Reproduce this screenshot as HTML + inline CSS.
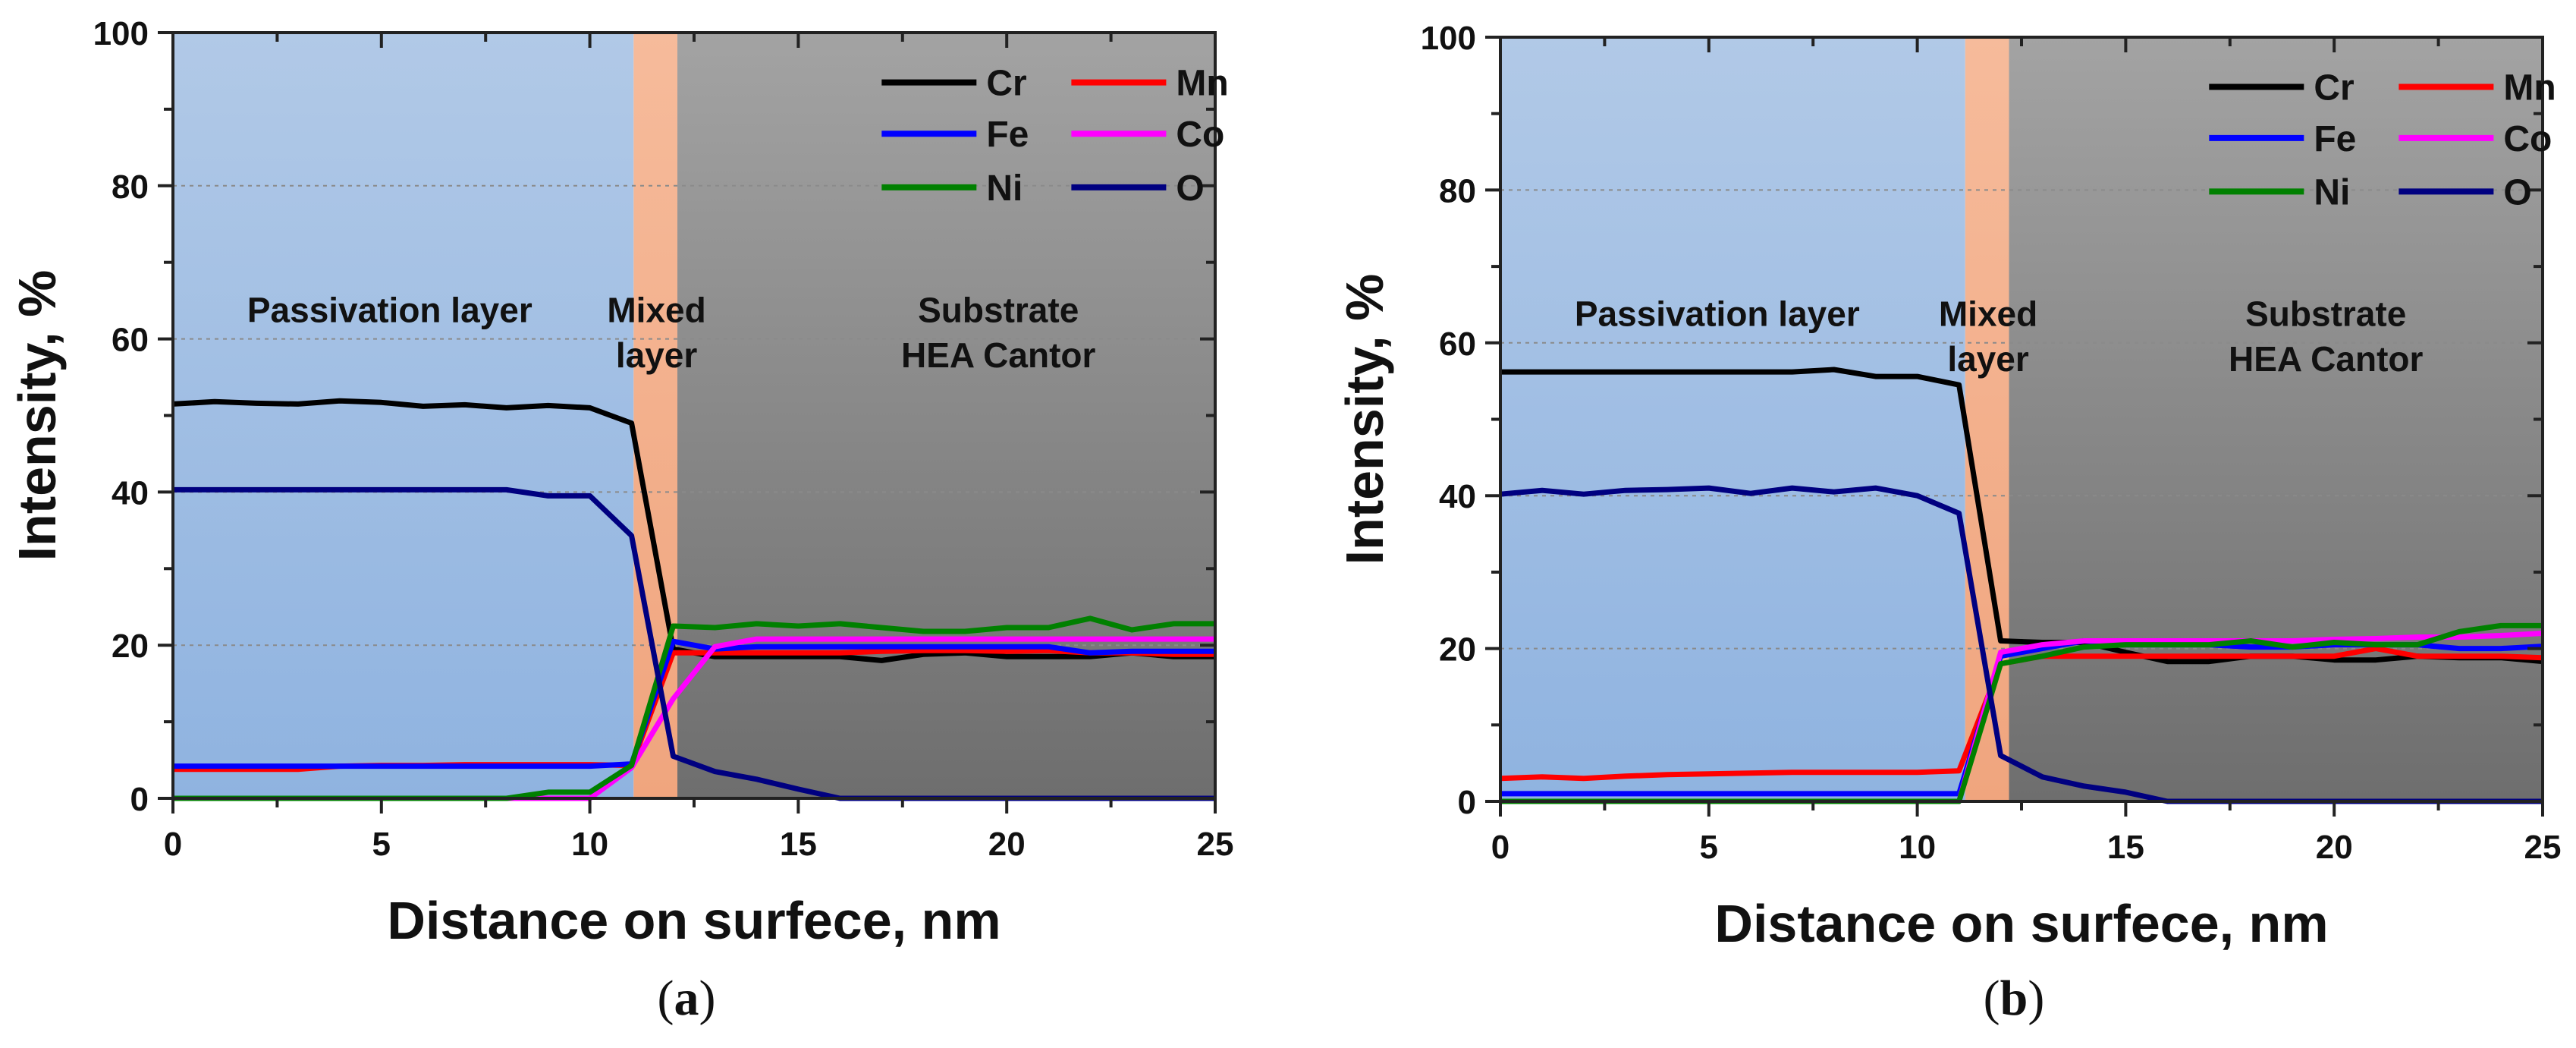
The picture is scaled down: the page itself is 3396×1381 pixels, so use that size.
<!DOCTYPE html>
<html><head><meta charset="utf-8">
<style>
html,body{margin:0;padding:0;background:#fff;}
svg{display:block;font-family:"Liberation Sans",Arial,sans-serif;}
</style></head>
<body>
<svg id="fig" width="3396" height="1381" viewBox="0 0 3396 1381" xmlns="http://www.w3.org/2000/svg">
<defs>
<linearGradient id="gBlue" x1="0" y1="0" x2="0" y2="1"><stop offset="0" stop-color="#b1c9e7"/><stop offset="1" stop-color="#8fb3e0"/></linearGradient>
<linearGradient id="gOrange" x1="0" y1="0" x2="0" y2="1"><stop offset="0" stop-color="#f6bb9b"/><stop offset="1" stop-color="#f0a57e"/></linearGradient>
<linearGradient id="gGray" x1="0" y1="0" x2="0" y2="1"><stop offset="0" stop-color="#a3a3a3"/><stop offset="1" stop-color="#6e6e6e"/></linearGradient>
</defs>
</svg>
<script>
const xs = [0,1,2,3,4,5,6,7,8,9,10,11,12,13,14,15,16,17,18,19,20,21,22,23,24,25];
const xTicks = [0,5,10,15,20,25];
const yTicks = [0,20,40,60,80,100];
const seriesNames = ["Cr","Mn","Fe","Co","Ni","O"];
const seriesColors = ["#000000","#ff0000","#0000ff","#ff00ff","#008000","#000080"];
const mixedA = [11.05, 12.1];
const mixedB = [11.15, 12.2];
const crA = [51.5,51.8,51.6,51.5,51.9,51.7,51.2,51.4,51,51.3,51,49,19.5,18.5,18.5,18.5,18.5,18,18.8,19,18.5,18.5,18.5,19,18.5,18.5];
const mnA = [3.8,3.8,3.8,3.8,4.2,4.3,4.3,4.4,4.4,4.4,4.4,4.3,19,19,19,19,19,19.2,19.3,19.3,19.2,19.3,19,19,18.8,18.8];
const feA = [4.2,4.2,4.2,4.2,4.2,4.2,4.2,4.2,4.2,4.2,4.2,4.5,20.5,19.5,19.8,19.8,19.8,19.8,19.8,19.8,19.8,19.8,19,19.2,19.2,19.2];
const coA = [0,0,0,0,0,0,0,0,0,0,0,4,13,19.8,20.8,20.8,20.8,20.8,20.8,20.8,20.8,20.8,20.8,20.8,20.8,20.8];
const niA = [0,0,0,0,0,0,0,0,0,0.8,0.8,4.3,22.5,22.3,22.8,22.5,22.8,22.3,21.8,21.8,22.3,22.3,23.5,22,22.8,22.8];
const oA = [40.3,40.3,40.3,40.3,40.3,40.3,40.3,40.3,40.3,39.5,39.5,34.3,5.5,3.5,2.5,1.2,0,0,0,0,0,0,0,0,0,0];
const crB = [56.2,56.2,56.2,56.2,56.2,56.2,56.2,56.2,56.5,55.6,55.6,54.5,21,20.8,20.8,19.5,18.3,18.3,19,19,18.5,18.5,19,18.8,18.8,18.3];
const mnB = [3,3.2,3,3.3,3.5,3.6,3.7,3.8,3.8,3.8,3.8,4,18,19,19,19,19,19,19,19,19,20,19,19,19,18.8];
const feB = [1,1,1,1,1,1,1,1,1,1,1,1,19,20,21,20.5,20.5,20.5,20.2,20.2,20.5,20.5,20.5,20,20,20.3];
const coB = [0,0,0,0,0,0,0,0,0,0,0,0,19.5,20.5,21,21,21,21,21,21,21.2,21.3,21.5,21.5,21.7,22];
const niB = [0,0,0,0,0,0,0,0,0,0,0,0,18,19,20.2,20.5,20.5,20.5,21,20.2,20.8,20.5,20.5,22.2,23,23];
const oB = [40.2,40.7,40.2,40.7,40.8,41,40.3,41,40.5,41,40,37.7,6,3.2,2,1.2,0,0,0,0,0,0,0,0,0,0];

const NS = "http://www.w3.org/2000/svg";
const svg = document.getElementById("fig");
function mk(tag, attrs, parent){const e=document.createElementNS(NS,tag);for(const k in attrs)e.setAttribute(k,attrs[k]);(parent||svg).appendChild(e);return e;}

function drawPanel(p){
  const g = mk("g",{});
  
  
  const X = v => p.L + (v - 0) / 25 * (p.R - p.L);
  const Y = v => p.B - v / 100 * (p.B - p.T);
  // backgrounds
  const r1 = mk("rect",{x:p.L,y:p.T,width:X(p.mixed[0])-p.L,height:p.B-p.T,fill:"url(#gBlue)"},g);
  
  
  const r2 = mk("rect",{x:X(p.mixed[0]),y:p.T,width:X(p.mixed[1])-X(p.mixed[0]),height:p.B-p.T,fill:"url(#gOrange)"},g);
  
  
  const r3 = mk("rect",{x:X(p.mixed[1]),y:p.T,width:p.R-X(p.mixed[1]),height:p.B-p.T,fill:"url(#gGray)"},g);
  
  
  // grid
  [20,40,60,80].forEach(v=>{
    const l = mk("line",{x1:p.L,x2:p.R,y1:Y(v),y2:Y(v),stroke:"#8a8a8a","stroke-width":2,"stroke-dasharray":"5,6"},g);
    
    
  });
  // region labels
  const tl = (txt,x,y,name)=>{const t=mk("text",{x:x,y:y,"text-anchor":"middle","font-size":46,"font-weight":"bold",fill:"#111"},g);t.textContent=txt;};
  tl("Passivation layer",X(p.lab[0]),Y(62.2),"passivation-label");
  tl("Mixed",X(p.lab[1]),Y(62.2),"mixed-label");
  tl("layer",X(p.lab[1]),Y(56.3),"mixed-label-2");
  tl("Substrate",X(p.lab[2]),Y(62.2),"substrate-label");
  tl("HEA Cantor",X(p.lab[2]),Y(56.3),"substrate-label-2");
  // series
  const data = p.data;
  data.forEach((arr,i)=>{
    const pts = xs.map((x,j)=>X(x).toFixed(1)+","+Y(arr[j]).toFixed(1)).join(" ");
    const pl = mk("polyline",{points:pts,fill:"none",stroke:seriesColors[i],"stroke-width":7,"stroke-linejoin":"round"},g);
    
    
  });
  // axes frame
  const fr = mk("rect",{x:p.L,y:p.T,width:p.R-p.L,height:p.B-p.T,fill:"none",stroke:"#222","stroke-width":4},g);
  
  
  // ticks
  for(let v=0; v<=25; v+=2.5){
    const major = v%5===0; const len = major?20:12;
    const t1 = mk("line",{x1:X(v),x2:X(v),y1:p.B,y2:p.B+len,stroke:"#222","stroke-width":4},g);
    
    
    const t2 = mk("line",{x1:X(v),x2:X(v),y1:p.T,y2:p.T+len,stroke:"#222","stroke-width":4},g);
    
    
  }
  for(let v=0; v<=100; v+=10){
    const major = v%20===0; const len = major?20:12;
    const t1 = mk("line",{x1:p.L-len,x2:p.L,y1:Y(v),y2:Y(v),stroke:"#222","stroke-width":4},g);
    
    
    const t2 = mk("line",{x1:p.R-len,x2:p.R,y1:Y(v),y2:Y(v),stroke:"#222","stroke-width":4},g);
    
    
  }
  xTicks.forEach(v=>{
    const t = mk("text",{x:X(v),y:p.B+75,"text-anchor":"middle","font-size":44,"font-weight":"bold",fill:"#111"},g);
    t.textContent = v;
    
    
  });
  yTicks.forEach(v=>{
    const t = mk("text",{x:p.L-32,y:Y(v)+16,"text-anchor":"end","font-size":44,"font-weight":"bold",fill:"#111"},g);
    t.textContent = v;
    
    
  });
  // axis titles
  const yt = mk("text",{x:0,y:0,transform:`translate(${p.L-155},${(p.T+p.B)/2}) rotate(-90)`,"text-anchor":"middle","font-size":70,"font-weight":"bold",fill:"#111"},g);
  yt.textContent = "Intensity, %";
  
  
  const xt = mk("text",{x:(p.L+p.R)/2,y:p.B+185,"text-anchor":"middle","font-size":70,"font-weight":"bold",fill:"#111"},g);
  xt.textContent = "Distance on surfece, nm";
  
  
  // legend
  const lx = [X(17),X(21.55)], ly=[Y(93.5),Y(86.8),Y(79.8)];
  seriesNames.forEach((n,i)=>{
    const col=i%2, row=Math.floor(i/2);
    const x0=lx[col];
    const l = mk("line",{x1:x0,x2:x0+125,y1:ly[row],y2:ly[row],stroke:seriesColors[i],"stroke-width":8},g);
    
    
    const t = mk("text",{x:x0+138,y:ly[row]+17,"font-size":48,"font-weight":"bold",fill:"#111"},g);
    t.textContent = n;
    
    
  });
  // caption
  const cap = mk("text",{x:(p.L+p.R)/2 - 10,y:1337,"text-anchor":"middle","font-size":66,fill:"#111","font-family":"Liberation Serif, serif"},g);
  cap.innerHTML = '(<tspan font-weight="bold">'+p.id+'</tspan>)';
  
  
}

drawPanel({id:"a",L:228,R:1602,T:43,B:1052,mixed:mixedA,lab:[5.2,11.6,19.8],data:[crA,mnA,feA,coA,niA,oA]});
drawPanel({id:"b",L:1978,R:3352,T:49,B:1056,mixed:mixedB,lab:[5.2,11.7,19.8],data:[crB,mnB,feB,coB,niB,oB]});
</script>
</body></html>
